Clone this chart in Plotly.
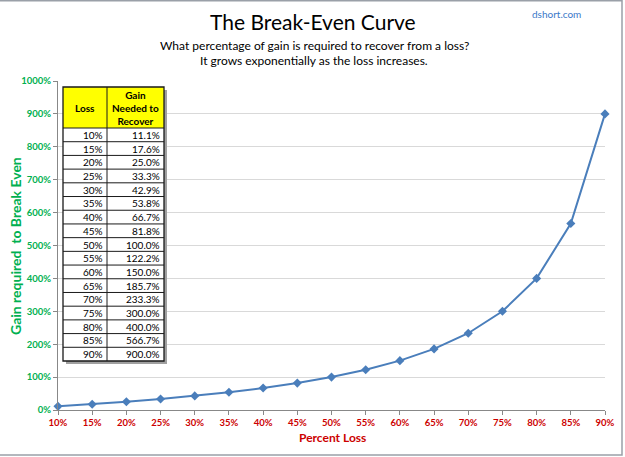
import plotly.graph_objects as go

loss = [10, 15, 20, 25, 30, 35, 40, 45, 50, 55, 60, 65, 70, 75, 80, 85, 90]
gain = [11.1, 17.6, 25.0, 33.3, 42.9, 53.8, 66.7, 81.8, 100.0, 122.2, 150.0,
        185.7, 233.3, 300.0, 400.0, 566.7, 900.0]
x_labels = [f"{v}%" for v in loss]
y_ticks = list(range(0, 1001, 100))
y_labels = [f"{v}%" for v in y_ticks]
table_header = ["Loss", "Gain<br>Needed to<br>Recover"]

W, H = 625, 457
L, R, T, B = 58, 20, 81, 47
PW, PH = W - L - R, H - T - B

def px(x):
    return (x - L) / PW

def py(y):
    return (H - B - y) / PH

FONT = "Lato"
fig = go.Figure()

fig.add_trace(go.Scatter(
    x=loss, y=gain, mode="lines+markers",
    line=dict(color="#4A7EBB", width=2),
    marker=dict(symbol="diamond", size=7, color="#4A7EBB"),
    cliponaxis=False, showlegend=False, hoverinfo="skip",
))

# table geometry (pixels)
tx0, tmid, tx1 = 63, 107, 164
ty0, thead = 87, 128
rh = (361 - thead) / len(loss)
ty1 = thead + rh * len(loss)

shapes = [
    dict(type="rect", xref="paper", yref="paper", x0=px(tx0 + 3), x1=px(tx1 + 3),
         y0=py(ty1 + 3), y1=py(ty0 + 3), fillcolor="#A0A0A0", line=dict(width=0)),
    dict(type="rect", xref="paper", yref="paper", x0=px(tx0), x1=px(tx1),
         y0=py(ty1), y1=py(ty0), fillcolor="white", line=dict(width=0)),
    dict(type="rect", xref="paper", yref="paper", x0=px(tx0), x1=px(tx1),
         y0=py(thead), y1=py(ty0), fillcolor="#FFFF00", line=dict(width=0)),
]
for i in range(len(loss)):
    yy = thead + rh * i
    shapes.append(dict(type="line", xref="paper", yref="paper", x0=px(tx0), x1=px(tx1),
                       y0=py(yy), y1=py(yy), line=dict(color="#1A1A1A", width=1)))
shapes.append(dict(type="line", xref="paper", yref="paper", x0=px(tmid), x1=px(tmid),
                   y0=py(ty1), y1=py(ty0), line=dict(color="#1A1A1A", width=1)))
shapes.append(dict(type="rect", xref="paper", yref="paper", x0=px(tx0), x1=px(tx1),
                   y0=py(ty1), y1=py(ty0), line=dict(color="#1A1A1A", width=1.3)))
# chart border
shapes.append(dict(type="path", xref="paper", yref="paper",
                   path=f"M {px(-5)} {py(0.8)} L {px(622)} {py(0.8)} L {px(622)} {py(455)} L {px(-5)} {py(455)}",
                   line=dict(color="#9AA0A8", width=1.5)))

annotations = [
    dict(text="The Break-Even Curve", x=px(313), y=py(21), xref="paper", yref="paper",
         showarrow=False, xanchor="center", yanchor="middle",
         font=dict(family=FONT, size=21, color="black")),
    dict(text="What percentage of gain is required to recover from a loss?",
         x=px(314), y=py(45), xref="paper", yref="paper", showarrow=False,
         xanchor="center", yanchor="middle", font=dict(family=FONT, size=12, color="black")),
    dict(text="It grows exponentially as the loss increases.",
         x=px(314), y=py(60), xref="paper", yref="paper", showarrow=False,
         xanchor="center", yanchor="middle", font=dict(family=FONT, size=12, color="black")),
    dict(text="dshort.com", x=px(583), y=py(14), xref="paper", yref="paper",
         showarrow=False, xanchor="right", yanchor="middle",
         font=dict(family=FONT, size=10, color="#3A78C8")),
    dict(text="<b>Gain required  to Break Even</b>", x=px(15), y=py(246),
         xref="paper", yref="paper", showarrow=False, textangle=-90,
         xanchor="center", yanchor="middle",
         font=dict(family=FONT, size=14, color="#00B050")),
    dict(text="<b>Percent Loss</b>", x=px(332), y=py(438),
         xref="paper", yref="paper", showarrow=False,
         xanchor="center", yanchor="middle",
         font=dict(family=FONT, size=12, color="#CC0000")),
    dict(text=f"<b>{table_header[0]}</b>", x=px((tx0 + tmid) / 2), y=py((ty0 + thead) / 2),
         xref="paper", yref="paper", showarrow=False, xanchor="center", yanchor="middle",
         font=dict(family=FONT, size=10, color="black")),
    dict(text=f"<b>{table_header[1]}</b>", x=px((tmid + tx1) / 2), y=py((ty0 + thead) / 2),
         xref="paper", yref="paper", showarrow=False, xanchor="center", yanchor="middle",
         align="center", font=dict(family=FONT, size=10, color="black")),
]
for i, (lv, gv) in enumerate(zip(loss, gain)):
    yc = py(thead + rh * (i + 0.5))
    annotations.append(dict(text=f"{lv}%", x=px(tmid - 2), y=yc, xref="paper", yref="paper",
                            showarrow=False, xanchor="right", yanchor="middle",
                            font=dict(family=FONT, size=10, color="black")))
    annotations.append(dict(text=f"{gv:.1f}%", x=px(tx1 - 2), y=yc, xref="paper", yref="paper",
                            showarrow=False, xanchor="right", yanchor="middle",
                            font=dict(family=FONT, size=10, color="black")))

fig.update_layout(
    width=W, height=H,
    margin=dict(l=L, r=R, t=T, b=B, autoexpand=False),
    paper_bgcolor="white", plot_bgcolor="white",
    shapes=shapes, annotations=annotations,
    xaxis=dict(
        range=[10, 90], tickvals=loss, ticktext=[f"<b>{t}</b>" for t in x_labels],
        automargin=False,
        showgrid=False, zeroline=False, showline=True, linecolor="#888888", linewidth=1,
        ticks="outside", ticklen=4, tickcolor="#888888",
        tickfont=dict(family=FONT, size=9.5, color="#CC0000"),
    ),
    yaxis=dict(
        range=[0, 1000], tickvals=y_ticks, ticktext=[f"<b>{t}</b>" for t in y_labels],
        automargin=False,
        showgrid=True, gridcolor="#D9D9D9", gridwidth=1, zeroline=False,
        showline=True, linecolor="#888888", linewidth=1,
        ticks="outside", ticklen=4, tickcolor="#888888",
        tickfont=dict(family=FONT, size=9.5, color="#00B050"),
    ),
)

fig.write_html("out.html")
